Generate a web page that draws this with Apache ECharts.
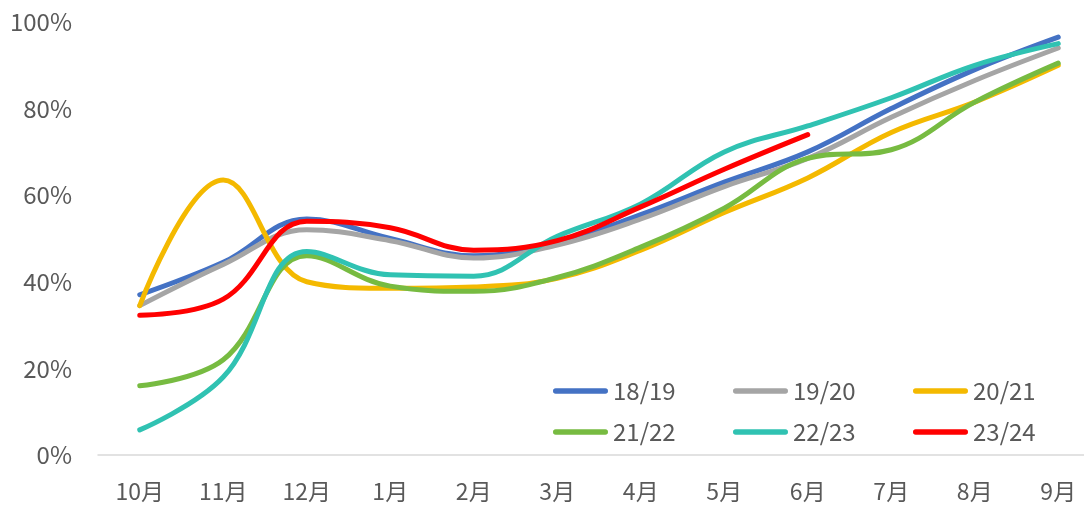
<!DOCTYPE html>
<html>
<head>
<meta charset="utf-8">
<script src="https://cdn.jsdelivr.net/npm/echarts@6/dist/echarts.min.js"></script>
<style>
  html, body { margin: 0; padding: 0; background: #fff; }
  #chart { width: 1084px; height: 507px; }
</style>
</head>
<body>
<div id="chart"></div>
<script>
// Monthly cumulative progress (%) per marketing year
const months = ['10月', '11月', '12月', '1月', '2月', '3月', '4月', '5月', '6月', '7月', '8月', '9月'];
const yearNames = ['18/19', '19/20', '20/21', '21/22', '22/23', '23/24'];
const yearColors = ['#4472C4', '#A5A5A5', '#F4B900', '#77BB41', '#30C2B2', '#FF0000'];

const y1819 = [37, 44.5, 54.5, 50, 46, 49, 55.5, 63, 70, 80, 89, 96.5];
const y1920 = [34.5, 44, 52, 49.5, 45.5, 48.5, 54.5, 62, 68.5, 78, 86.5, 94];
const y2021 = [34.5, 63.5, 40, 38.5, 38.8, 40.8, 47.3, 56, 64, 74.5, 81.5, 90];
const y2122 = [16, 22, 46, 39, 37.8, 41, 48, 57, 68.5, 70.5, 81.5, 90.5];
const y2223 = [5.8, 18, 47, 41.6, 41.3, 50.5, 58, 70, 76, 82.5, 90, 95];
const y2324 = [32.3, 36, 54, 52.5, 47.3, 49.5, 57.3, 66, 74];

const yearValues = [y1819, y1920, y2021, y2122, y2223, y2324];

const textColor = '#595959';
const fontFamily = '"Noto Sans CJK SC", "Noto Sans", sans-serif';

const series = yearNames.map((name, i) => ({
  name: name,
  type: 'line',
  data: yearValues[i],
  smooth: 0.4,
  symbol: 'none',
  lineStyle: { width: 5, color: yearColors[i], cap: 'round', join: 'round' },
  itemStyle: { color: yearColors[i] },
  z: 2 + i
}));

// capsule-shaped legend marker (rounded line ends)
const capsule = 'path://M2.5,0H48.5A2.5,2.5,0,0,1,48.5,5H2.5A2.5,2.5,0,0,1,2.5,0Z';

function legendRow(names, top) {
  return {
    data: names.map(n => ({ name: n, icon: capsule })),
    left: 553,
    top: top,
    width: 560,
    orient: 'horizontal',
    padding: 0,
    itemWidth: 55,
    itemHeight: 5.4,
    itemGap: 8,
    textStyle: {
      color: textColor,
      fontSize: 24,
      fontFamily: fontFamily,
      width: 112,
      lineHeight: 24
    }
  };
}

const chart = echarts.init(document.getElementById('chart'), null, { renderer: 'canvas' });
chart.setOption({
  animation: false,
  backgroundColor: '#ffffff',
  color: yearColors,
  legend: [
    legendRow(yearNames.slice(0, 3), 379),
    legendRow(yearNames.slice(3, 6), 420)
  ],
  grid: {
    left: 98, right: -16, top: 22, bottom: 52,
    containLabel: false,
    outerBoundsMode: 'none'
  },
  xAxis: {
    type: 'category',
    data: months,
    boundaryGap: true,
    axisLine: { show: true, lineStyle: { color: '#D9D9D9', width: 1.5 } },
    axisTick: { show: false },
    axisLabel: { color: textColor, fontSize: 23, fontFamily: fontFamily, margin: 25 },
    splitLine: { show: false }
  },
  yAxis: {
    type: 'value',
    min: 0,
    max: 100,
    interval: 20,
    axisLine: { show: false },
    axisTick: { show: false },
    splitLine: { show: false },
    axisLabel: {
      formatter: '{value}%',
      color: textColor,
      fontSize: 24,
      fontFamily: fontFamily,
      margin: 26
    }
  },
  series: series
});
</script>
</body>
</html>
